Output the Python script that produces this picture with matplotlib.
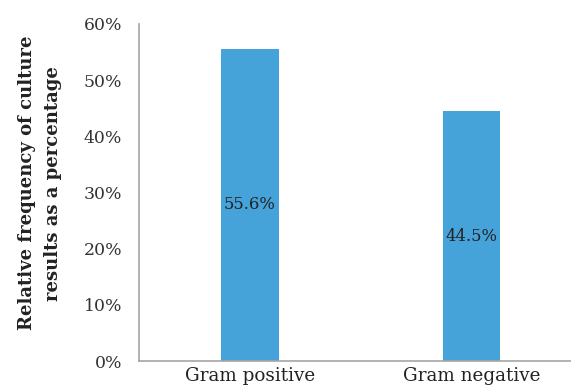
import matplotlib
matplotlib.use("Agg")
import matplotlib.pyplot as plt

categories = ["Gram positive", "Gram negative"]
values = [55.6, 44.5]
value_labels = ["55.6%", "44.5%"]
yticks = [0, 10, 20, 30, 40, 50, 60]

plt.rcParams['font.family'] = ['DejaVu Serif']

fig = plt.figure(figsize=(5.71, 3.87), dpi=100)
ax = fig.add_axes([139 / 571, 1 - 361 / 387, (571 - 139) / 571, (361 - 24) / 387])

x = range(len(categories))
bars = ax.bar(x, values, width=0.26, color="#45A3DA")

# value labels sit in the middle of each bar
for b, lab in zip(bars, value_labels):
    ax.text(b.get_x() + b.get_width() / 2, b.get_height() / 2, lab,
            ha="center", va="center", fontsize=11.8, color="#222222")

ax.set_xlim(-0.5, 1.45)
ax.set_ylim(0, 60)
ax.set_yticks(yticks)
ax.set_yticklabels([f"{t}%" for t in yticks], fontsize=12.4, color="#333333")
ax.set_xticks(list(x))
ax.set_xticklabels(categories, fontsize=13.2, color="#222222")
ax.tick_params(length=0)
ax.tick_params(axis="y", pad=12)
ax.tick_params(axis="x", pad=4)

for s in ["top", "right"]:
    ax.spines[s].set_visible(False)
for s in ["left", "bottom"]:
    ax.spines[s].set_color("#A6A6A6")
    ax.spines[s].set_linewidth(1.2)

ax.set_ylabel("Relative frequency of culture\nresults as a percentage",
              fontsize=13, fontweight="bold", color="#222222",
              linespacing=1.58)
ax.yaxis.set_label_coords(-0.178, 0.528)

fig.savefig("out.png", dpi=100)
